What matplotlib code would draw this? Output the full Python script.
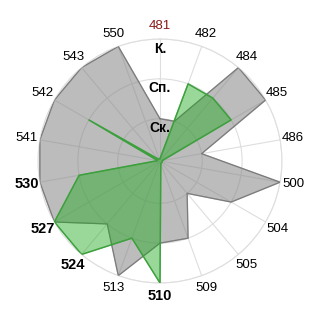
import matplotlib
matplotlib.use('Agg')
import matplotlib.pyplot as plt
import numpy as np

plt.rcParams['font.family'] = ['Liberation Sans', 'DejaVu Sans']

# категории (по часовой стрелке, начиная сверху)
categories = ['481', '482', '484', '485', '486', '500', '504', '505', '509',
              '510', '513', '524', '527', '530', '541', '542', '543', '550']
# уровни: 0 - нет, 1 - Ск., 2 - Сп., 3 - К.
gray_vals = [1, 1, 3, 3, 1, 3, 2, 1, 2, 2, 3, 2, 3, 3, 3, 3, 3, 3]
green_vals = [0, 2, 2, 2, 0, 0, 0, 0, 0, 3, 2, 3, 3, 2, 0, 2, 0, 0]
level_labels = ['Ск.', 'Сп.', 'К.']
levels = [1, 2, 3]
bold_labels = ['530', '527', '524', '510']
red_labels = ['481']

n = len(categories)
theta = np.linspace(0, 2 * np.pi, n, endpoint=False)
theta_c = np.append(theta, theta[0])
gray_c = np.append(gray_vals, gray_vals[0])
green_c = np.append(green_vals, green_vals[0])

fig = plt.figure(figsize=(3.2, 3.2), dpi=100)
ax = fig.add_axes([0.11875, 0.1156, 0.7625, 0.7625], projection='polar')
ax.set_theta_zero_location('N')
ax.set_theta_direction(-1)
ax.set_axisbelow(True)

ax.fill(theta_c, gray_c, color='#858585', alpha=0.55, zorder=2)
ax.plot(theta_c, gray_c, color='#7a7a7a', lw=0.8, zorder=3)
ax.fill(theta_c, green_c, color='#1faa1f', alpha=0.45, zorder=4)
ax.plot(theta_c, green_c, color='#3d9f3d', lw=1.0, zorder=5)

ax.set_ylim(-0.06, 3)
ax.set_yticks(levels)
ax.set_yticklabels([])
for v, lab in zip(levels, level_labels):
    ax.text(0, v - 0.24, lab, ha='center', va='center', fontsize=10,
            fontweight='bold', zorder=6)

ax.set_xticks(theta)
ax.set_xticklabels(categories)
for t in ax.get_xticklabels():
    s = t.get_text()
    if s in bold_labels:
        t.set_fontweight('bold')
        t.set_fontsize(10.5)
    else:
        t.set_fontsize(9.5)
    if s in red_labels:
        t.set_color('#8b1a1a')
ax.tick_params(axis='x', pad=-1)

ax.grid(color='#dedede', lw=0.8)
ax.spines['polar'].set_color('#dedede')
ax.spines['polar'].set_linewidth(0.8)

fig.savefig('out.png', dpi=100)
